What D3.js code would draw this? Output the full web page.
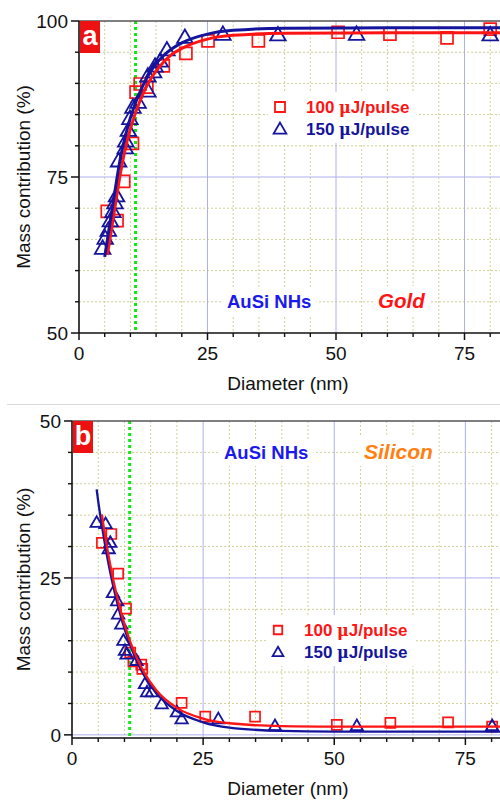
<!DOCTYPE html>
<html>
<head>
<meta charset="utf-8">
<script src="https://cdn.jsdelivr.net/npm/d3@7"></script>
<style>
body { margin: 0; background: #fff; }
svg { display: block; font-family: Arial, "Liberation Sans", sans-serif; }
</style>
</head>
<body>
<div id="chart"></div>
<script>
// ---- data ----
const xTicks = [0, 25, 50, 75];
const goldTicks = [50, 75, 100];
const siliconTicks = [0, 25, 50];
const legendLabels = ['100 μJ/pulse', '150 μJ/pulse'];
const cutoffDiameter = 11;

// panel a: gold mass contribution (%) vs diameter (nm)
const gold100 = [[5.5, 69.5], [7.4, 68.0], [8.7, 74.3], [10.4, 80.4], [11.1, 88.6], [11.9, 89.9],
    [13.2, 89.4], [16.4, 92.8], [20.8, 94.8], [25.1, 96.8], [34.9, 96.8], [50.4, 98.2],
    [60.5, 97.9], [71.6, 97.3], [80.0, 98.7]];
const gold150 = [[4.6, 63.4], [5.1, 65.0], [5.7, 66.3], [6.1, 67.8], [6.6, 69.3], [7.0, 70.7],
    [7.3, 71.8], [7.7, 77.4], [9.0, 79.5], [9.1, 80.6], [9.6, 82.3], [9.9, 84.2], [10.5, 86.0],
    [11.5, 86.8], [13.4, 88.6], [13.4, 91.0], [14.5, 91.7], [14.8, 92.6], [15.8, 93.4],
    [17.1, 95.2], [20.6, 97.2], [28.0, 97.7], [38.7, 97.6], [54.0, 97.7], [80.0, 97.6]];
const goldFit100 = [[5.5, 62.5], [6, 64.9], [7, 70.2], [8, 75.3], [9, 79.5], [10, 82.7], [12, 87.5],
    [14, 90.8], [16, 93.0], [18, 94.6], [20, 95.6], [25, 97.1], [30, 97.7], [40, 98.05],
    [60, 98.1], [82, 98.1]];
const goldFit150 = [[5, 62.2], [6, 67.5], [7, 72.8], [8, 77.8], [9, 81.5], [10, 84.5], [12, 88.9],
    [14, 92.0], [16, 94.1], [18, 95.5], [20, 96.5], [25, 97.9], [30, 98.5], [40, 98.85],
    [60, 98.9], [82, 98.9]];

// panel b: silicon mass contribution (%) vs diameter (nm)
const silicon100 = [[5.7, 30.6], [7.5, 32.0], [8.8, 25.7], [10.3, 20.1], [11.1, 13.1], [11.7, 11.7],
    [13.2, 11.2], [13.4, 10.5], [20.9, 5.1], [25.4, 2.9], [34.9, 2.9], [50.5, 1.6], [60.7, 1.9],
    [71.7, 2.0], [80.1, 1.3]];
const silicon150 = [[4.7, 33.7], [6.4, 33.5], [7.0, 29.5], [7.3, 30.5], [7.8, 22.5], [8.6, 21.2],
    [8.8, 19.1], [9.4, 17.5], [9.8, 14.9], [10.1, 13.3], [10.4, 12.7], [12.3, 11.7], [13.9, 8.0],
    [14.3, 6.7], [15.2, 6.7], [17.1, 4.8], [20.0, 3.5], [20.9, 2.4], [27.9, 2.4], [38.7, 1.3],
    [54.3, 1.3], [80.1, 1.3]];
const siliconFit100 = [[5.7, 35.1], [6, 33.4], [7, 28.4], [8, 24.2], [9, 20.6], [10, 17.6], [12, 12.9],
    [14, 9.6], [16, 7.2], [20, 4.3], [25, 2.6], [30, 1.85], [40, 1.4], [50, 1.32], [82, 1.3]];
const siliconFit150 = [[4.7, 39.1], [5, 37.2], [6, 31.8], [7, 27.1], [8, 23.2], [9, 19.8], [10, 16.9],
    [12, 12.4], [14, 9.1], [16, 6.7], [20, 3.8], [25, 2.0], [30, 1.15], [40, 0.63], [50, 0.52],
    [82, 0.5]];

const red = '#ff1414';
const navy = '#14149c';

const svg = d3.select('#chart')
    .append('svg')
    .attr('width', 500)
    .attr('height', 800);

// thin separator between the two panels
svg.append('line')
    .attr('x1', 7).attr('x2', 500).attr('y1', 404.5).attr('y2', 404.5)
    .attr('stroke', '#d8d8d8').attr('stroke-width', 1);

function drawPanel(p) {
    const g = svg.append('g');
    const x = d3.scaleLinear().domain(p.xDomain)
        .range([p.left, p.left + p.xScale * p.xDomain[1]]);
    const y = d3.scaleLinear().domain(p.yDomain).range([p.bottom, p.top]);

    // minor dotted grid every 5 units
    const minorX = d3.range(5, p.xDomain[1], 5).filter(v => v % 25 !== 0);
    const minorY = d3.range(p.yTicks[0] + 5, p.yTicks[2], 5).filter(v => v % 25 !== 0);
    g.selectAll('.mx').data(minorX).join('line')
        .attr('x1', d => x(d)).attr('x2', d => x(d))
        .attr('y1', p.top).attr('y2', p.bottom)
        .attr('stroke', '#d0d096').attr('stroke-width', 1).attr('stroke-dasharray', '2,2');
    g.selectAll('.my').data(minorY).join('line')
        .attr('x1', p.left).attr('x2', 500)
        .attr('y1', d => y(d)).attr('y2', d => y(d))
        .attr('stroke', '#d0d096').attr('stroke-width', 1).attr('stroke-dasharray', '2,2');

    // major grid
    g.selectAll('.gx').data(xTicks.filter(v => v > 0)).join('line')
        .attr('x1', d => x(d)).attr('x2', d => x(d))
        .attr('y1', p.top).attr('y2', p.bottom)
        .attr('stroke', '#aeb0ee').attr('stroke-width', 1);
    g.selectAll('.gy').data(p.yTicks.filter(v => y(v) < p.bottom - 1 && y(v) > p.top + 1)).join('line')
        .attr('x1', p.left).attr('x2', 500)
        .attr('y1', d => y(d)).attr('y2', d => y(d))
        .attr('stroke', '#aeb0ee').attr('stroke-width', 1);

    // notes with white boxes behind them
    const notes = g.append('g');
    p.notes.forEach(n => {
        const t = notes.append('text')
            .attr('x', n.x).attr('y', n.y)
            .attr('fill', n.color)
            .attr('font-size', n.size)
            .attr('font-weight', 'bold')
            .attr('font-style', n.italic ? 'italic' : 'normal')
            .text(n.text);
        const b = t.node().getBBox();
        notes.insert('rect', 'text')
            .attr('x', b.x - 5).attr('y', b.y - 3)
            .attr('width', b.width + 10).attr('height', b.height + 6)
            .attr('fill', '#fff');
    });

    // legend
    const lg = g.append('g');
    lg.append('rect')
        .attr('x', p.legend.x - 12).attr('y', p.legend.y - 15)
        .attr('width', 150).attr('height', 51).attr('fill', '#fff');
    lg.append('path')
        .attr('transform', `translate(${p.legend.x},${p.legend.y})`)
        .attr('d', d3.symbol(d3.symbolSquare, p.legend.sq * p.legend.sq)())
        .attr('fill', 'none').attr('stroke', red).attr('stroke-width', 1.8);
    lg.append('path')
        .attr('transform', `translate(${p.legend.x},${p.legend.y + p.legend.gap + 1})`)
        .attr('d', d3.symbol(d3.symbolTriangle, p.legend.tri)())
        .attr('fill', 'none').attr('stroke', navy).attr('stroke-width', 1.8);
    legendLabels.forEach((label, i) => {
        const parts = label.split('μ');
        const t = lg.append('text')
            .attr('x', p.legend.x + 26).attr('y', p.legend.y + 6 + i * p.legend.gap)
            .attr('fill', i === 0 ? red : navy)
            .attr('font-size', 17).attr('font-weight', 'bold');
        t.append('tspan').text(parts[0]);
        t.append('tspan').attr('font-family', '"DejaVu Serif", serif')
            .attr('font-size', 16).text('μ');
        t.append('tspan').text(parts[1]);
    });

    // green cutoff line
    g.append('line')
        .attr('x1', x(cutoffDiameter)).attr('x2', x(cutoffDiameter))
        .attr('y1', p.top).attr('y2', p.bottom)
        .attr('stroke', '#12e612').attr('stroke-width', 3).attr('stroke-dasharray', '3,3');

    // markers
    g.selectAll('.s100').data(p.s100).join('path')
        .attr('transform', d => `translate(${x(d[0])},${y(d[1])})`)
        .attr('d', d3.symbol(d3.symbolSquare, p.sq * p.sq)())
        .attr('fill', 'none').attr('stroke', red).attr('stroke-width', 1.7);
    g.selectAll('.s150').data(p.s150).join('path')
        .attr('transform', d => `translate(${x(d[0])},${y(d[1])})`)
        .attr('d', d3.symbol(d3.symbolTriangle, p.tri)())
        .attr('fill', 'none').attr('stroke', navy).attr('stroke-width', 1.8);

    // fitted curves
    const line = d3.line().x(d => x(d[0])).y(d => y(d[1])).curve(d3.curveMonotoneX);
    p.curves.forEach(c => {
        g.append('path')
            .datum(c.data)
            .attr('d', line)
            .attr('fill', 'none').attr('stroke', c.color).attr('stroke-width', p.lineWidth);
    });

    // frame and axes
    g.append('line')
        .attr('x1', p.left).attr('x2', 500).attr('y1', p.top).attr('y2', p.top)
        .attr('stroke', '#555').attr('stroke-width', 1.5);
    g.append('line')
        .attr('x1', p.left).attr('x2', p.left).attr('y1', p.top).attr('y2', p.bottom)
        .attr('stroke', '#111').attr('stroke-width', 1.6);
    g.append('line')
        .attr('x1', p.left).attr('x2', 500).attr('y1', p.bottom).attr('y2', p.bottom)
        .attr('stroke', '#111').attr('stroke-width', 1.6);

    // ticks
    g.selectAll('.ytm').data(minorY).join('line')
        .attr('x1', p.left - 4).attr('x2', p.left)
        .attr('y1', d => y(d)).attr('y2', d => y(d))
        .attr('stroke', '#111').attr('stroke-width', 1.4);
    g.selectAll('.yt').data(p.yTicks).join('line')
        .attr('x1', p.left - 8).attr('x2', p.left)
        .attr('y1', d => y(d)).attr('y2', d => y(d))
        .attr('stroke', '#111').attr('stroke-width', 1.5);
    g.selectAll('.xtm').data(minorX).join('line')
        .attr('x1', d => x(d)).attr('x2', d => x(d))
        .attr('y1', p.bottom).attr('y2', p.bottom + 4)
        .attr('stroke', '#111').attr('stroke-width', 1.4);
    g.selectAll('.xt').data(xTicks).join('line')
        .attr('x1', d => x(d)).attr('x2', d => x(d))
        .attr('y1', p.bottom).attr('y2', p.bottom + 7)
        .attr('stroke', '#111').attr('stroke-width', 1.5);

    g.selectAll('.yl').data(p.yTicks).join('text')
        .attr('x', p.left - 11).attr('y', d => y(d)).attr('dy', '0.36em')
        .attr('text-anchor', 'end').attr('font-size', 19).attr('fill', '#111')
        .text(d => d);
    g.selectAll('.xl').data(xTicks).join('text')
        .attr('x', d => x(d)).attr('y', p.bottom + 20).attr('dy', '0.36em')
        .attr('text-anchor', 'middle').attr('font-size', 19).attr('fill', '#111')
        .text(d => d);

    // axis titles
    g.append('text')
        .attr('transform', `translate(30,${(p.top + p.bottom) / 2}) rotate(-90)`)
        .attr('text-anchor', 'middle').attr('font-size', 19).attr('fill', '#111')
        .text('Mass contribution (%)');
    g.append('text')
        .attr('x', 288).attr('y', p.bottom + 57)
        .attr('text-anchor', 'middle').attr('font-size', 19).attr('fill', '#111')
        .text('Diameter (nm)');

    // panel tag
    g.append('rect')
        .attr('x', p.left + 1).attr('y', p.top).attr('width', 20).attr('height', 32)
        .attr('fill', '#ee1111');
    g.append('text')
        .attr('x', p.left + 11).attr('y', p.top + 24)
        .attr('text-anchor', 'middle').attr('font-size', 27).attr('font-weight', 'bold')
        .attr('fill', '#fff').text(p.tag);
}

drawPanel({
    tag: 'a',
    left: 79, top: 21, bottom: 333, xScale: 5.14,
    xDomain: [0, 82], yDomain: [50, 100], yTicks: goldTicks,
    s100: gold100, s150: gold150, sq: 12, tri: 105, lineWidth: 3,
    curves: [{ data: goldFit100, color: red }, { data: goldFit150, color: navy }],
    legend: { x: 280, y: 107, gap: 22, sq: 10, tri: 70 },
    notes: [
        { text: 'AuSi NHs', x: 227, y: 308, size: 18.5, color: '#1a1aee' },
        { text: 'Gold', x: 378, y: 308, size: 20.5, color: red, italic: true }
    ]
});

drawPanel({
    tag: 'b',
    left: 72, top: 421, bottom: 738, xScale: 5.245,
    xDomain: [0, 82], yDomain: [-0.5, 50], yTicks: siliconTicks,
    s100: silicon100, s150: silicon150, sq: 10, tri: 66, lineWidth: 2.3,
    curves: [{ data: siliconFit150, color: navy }, { data: siliconFit100, color: red }],
    legend: { x: 278, y: 630, gap: 22, sq: 8.5, tri: 50 },
    notes: [
        { text: 'AuSi NHs', x: 224, y: 459, size: 18.5, color: '#1a1aee' },
        { text: 'Silicon', x: 364, y: 459, size: 21, color: '#ff8010', italic: true }
    ]
});
</script>
</body>
</html>
